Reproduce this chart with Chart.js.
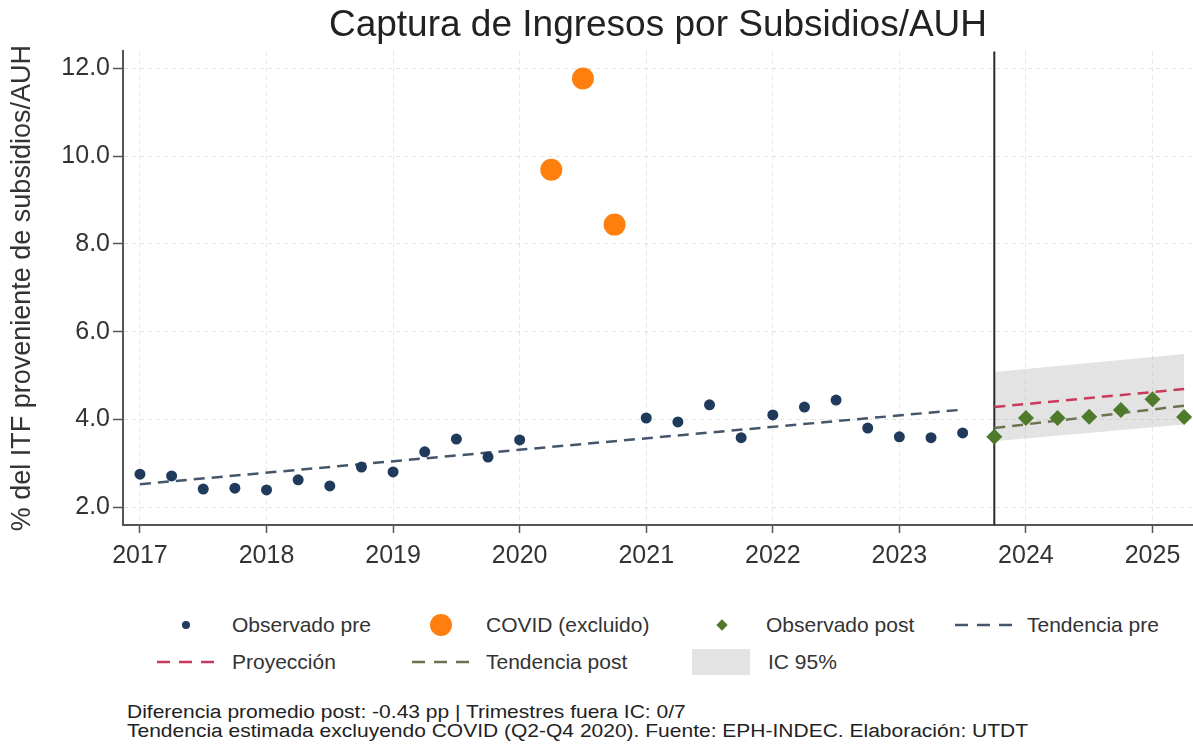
<!DOCTYPE html>
<html lang="es">
<head>
<meta charset="UTF-8">
<title>Captura de Ingresos por Subsidios/AUH</title>
<script src="https://cdn.jsdelivr.net/npm/chart.js"></script>
<style>
    body {
        margin: 0;
        background: #ffffff;
        font-family: "Liberation Sans", Arial, sans-serif;
        color: #333;
    }

    .page {
        position: relative;
        width: 1193px;
        height: 748px;
        overflow: hidden;
    }

    #chart {
        position: absolute;
        left: 0;
        top: 0;
    }

    .legend-text {
        position: absolute;
        font-size: 21px;
        line-height: 24px;
        color: #333;
        white-space: nowrap;
    }

    .sym {
        position: absolute;
    }

    .footer {
        position: absolute;
        left: 127px;
        top: 703px;
        font-size: 21px;
        line-height: 22px;
        color: #222;
        white-space: nowrap;
        transform: scaleY(0.86);
        transform-origin: 0 0;
    }
</style>
</head>
<body>
<div class="page" id="page">
    <canvas id="chart" width="1193" height="590"></canvas>
    <div class="footer">
        <div>Diferencia promedio post: -0.43 pp | Trimestres fuera IC: 0/7</div>
        <div>Tendencia estimada excluyendo COVID (Q2-Q4 2020). Fuente: EPH-INDEC. Elaboración: UTDT</div>
    </div>
</div>

<script>
    // Quarters as decimal years (Q1 = .00, Q2 = .25, ...)
    const preQuarters = [2017, 2017.25, 2017.5, 2017.75, 2018, 2018.25, 2018.5, 2018.75,
        2019, 2019.25, 2019.5, 2019.75, 2020, 2021, 2021.25, 2021.5, 2021.75,
        2022, 2022.25, 2022.5, 2022.75, 2023, 2023.25, 2023.5];
    const preValues = [2.75, 2.71, 2.41, 2.43, 2.39, 2.62, 2.48, 2.91,
        2.80, 3.26, 3.55, 3.14, 3.53, 4.03, 3.94, 4.33, 3.58,
        4.10, 4.28, 4.44, 3.80, 3.60, 3.58, 3.69];

    const covidQuarters = [2020.25, 2020.5, 2020.75];
    const covidValues = [9.69, 11.77, 8.44];

    const postQuarters = [2023.75, 2024, 2024.25, 2024.5, 2024.75, 2025, 2025.25];
    const postValues = [3.60, 4.03, 4.03, 4.06, 4.21, 4.46, 4.05];

    // straight lines: start and end of each fitted trend
    const trendPreQuarters = [2017, 2023.5];
    const trendPreValues = [2.52, 4.22];
    const projQuarters = [2023.75, 2025.25];
    const projValues = [4.28, 4.69];
    const trendPostValues = [3.80, 4.31];
    const ciUpper = [5.08, 5.49];
    const ciLower = [3.50, 3.88];

    const cutoffQuarter = 2023.75;
    const xTickYears = [2017, 2018, 2019, 2020, 2021, 2022, 2023, 2024, 2025];
    const yTickValues = [2, 4, 6, 8, 10, 12];

    const colors = {
        pre: "#1f3a5a",
        covid: "#ff7f0e",
        post: "#4e7a2b",
        trendPre: "#44566a",
        proj: "#c83a5c",
        trendPost: "#6a7550",
        ci: "rgba(170, 170, 170, 0.33)"
    };

    const pts = (xs, ys) => xs.map((x, i) => ({ x: x, y: ys[i] }));
    const FONT = "'Liberation Sans', Arial, sans-serif";
    const CI_INDEX = 6;

    // vertical line at the start of the post period, drawn over the band
    const cutoffLine = {
        id: "cutoffLine",
        afterDatasetDraw(chart, args) {
            if (args.index !== CI_INDEX) return;
            const { ctx, chartArea, scales } = chart;
            const x = scales.x.getPixelForValue(cutoffQuarter);
            ctx.save();
            ctx.strokeStyle = "#2a2a2a";
            ctx.lineWidth = 2;
            ctx.beginPath();
            ctx.moveTo(x, chartArea.top);
            ctx.lineTo(x, chartArea.bottom);
            ctx.stroke();
            ctx.restore();
        }
    };

    new Chart(document.getElementById("chart"), {
        type: "scatter",
        data: {
            datasets: [
                { label: "Observado pre", data: pts(preQuarters, preValues), backgroundColor: colors.pre, borderColor: colors.pre, pointRadius: 5.5, borderWidth: 0 },
                { label: "COVID (excluido)", data: pts(covidQuarters, covidValues), backgroundColor: colors.covid, borderColor: colors.covid, pointRadius: 11, borderWidth: 0 },
                { label: "Observado post", data: pts(postQuarters, postValues), backgroundColor: colors.post, borderColor: colors.post, pointStyle: "rectRot", pointRadius: 8, borderWidth: 0 },
                { label: "Tendencia pre", data: pts(trendPreQuarters, trendPreValues), showLine: true, pointRadius: 0, borderColor: colors.trendPre, borderWidth: 2.5, borderDash: [11, 7] },
                { label: "Proyección", data: pts(projQuarters, projValues), showLine: true, pointRadius: 0, borderColor: colors.proj, borderWidth: 2.5, borderDash: [11, 7] },
                { label: "Tendencia post", data: pts(projQuarters, trendPostValues), showLine: true, pointRadius: 0, borderColor: colors.trendPost, borderWidth: 2.5, borderDash: [11, 7] },
                { label: "IC 95%", data: pts(projQuarters, ciUpper), showLine: true, pointRadius: 0, borderWidth: 0, borderColor: "transparent", backgroundColor: colors.ci, fill: "+1" },
                { label: "IC inferior", data: pts(projQuarters, ciLower), showLine: true, pointRadius: 0, borderWidth: 0, borderColor: "transparent" }
            ]
        },
        options: {
            responsive: false,
            animation: false,
            layout: { padding: 0, autoPadding: false },
            plugins: {
                legend: { display: false },
                tooltip: { enabled: false },
                title: {
                    display: true,
                    text: "Captura de Ingresos por Subsidios/AUH",
                    fullSize: false,
                    color: "#222",
                    font: { family: FONT, size: 37, weight: "normal" },
                    padding: { top: 4, bottom: 3 }
                }
            },
            scales: {
                x: {
                    type: "linear",
                    min: 2016.866,
                    max: 2025.32,
                    afterBuildTicks: s => { s.ticks = xTickYears.map(v => ({ value: v })); },
                    afterFit: s => { s.height = 65; },
                    ticks: {
                        callback: v => String(v),
                        color: "#333",
                        font: { family: FONT, size: 25 },
                        padding: 8,
                        maxRotation: 0,
                        autoSkip: false
                    },
                    grid: { color: "#e4e4e4", lineWidth: 1, tickColor: "#555", tickLength: 8, tickWidth: 1.5 },
                    border: { color: "#555", width: 2, dash: [4, 4] }
                },
                y: {
                    min: 1.59,
                    max: 12.39,
                    afterBuildTicks: s => { s.ticks = yTickValues.map(v => ({ value: v })); },
                    afterFit: s => { s.width = 123; },
                    ticks: {
                        callback: v => Number(v).toFixed(1),
                        color: "#333",
                        font: { family: FONT, size: 25 },
                        padding: 3
                    },
                    grid: { color: "#e4e4e4", lineWidth: 1, tickColor: "#555", tickLength: 10, tickWidth: 1.5 },
                    border: { color: "#555", width: 2, dash: [4, 4] },
                    title: {
                        display: true,
                        text: "% del ITF proveniente de subsidios/AUH",
                        color: "#333",
                        font: { family: FONT, size: 27 },
                        padding: { top: 6, bottom: 0 }
                    }
                }
            }
        },
        plugins: [cutoffLine]
    });

    // legend below the plot (two rows, four columns)
    const legendRows = [625, 662];
    const legendItems = [
        { label: "Observado pre", kind: "dot", size: 8, color: colors.pre, row: 0, symX: 186, textX: 232 },
        { label: "COVID (excluido)", kind: "dot", size: 22, color: colors.covid, row: 0, symX: 441, textX: 486 },
        { label: "Observado post", kind: "diamond", size: 8, color: colors.post, row: 0, symX: 722, textX: 766 },
        { label: "Tendencia pre", kind: "dash", size: 58, color: colors.trendPre, row: 0, symX: 984, textX: 1027 },
        { label: "Proyección", kind: "dash", size: 58, color: colors.proj, row: 1, symX: 186, textX: 232 },
        { label: "Tendencia post", kind: "dash", size: 58, color: colors.trendPost, row: 1, symX: 441, textX: 486 },
        { label: "IC 95%", kind: "box", size: 58, color: "#e3e3e3", row: 1, symX: 721, textX: 768 }
    ];

    const page = document.getElementById("page");
    legendItems.forEach(item => {
        const cy = legendRows[item.row];
        let sym;
        if (item.kind === "dash") {
            sym = document.createElementNS("http://www.w3.org/2000/svg", "svg");
            sym.setAttribute("width", item.size);
            sym.setAttribute("height", 6);
            sym.innerHTML = `<line x1="0" y1="3" x2="${item.size}" y2="3" stroke="${item.color}" stroke-width="2.5" stroke-dasharray="13 9"/>`;
            sym.style.left = (item.symX - item.size / 2) + "px";
            sym.style.top = (cy - 3) + "px";
        } else {
            sym = document.createElement("div");
            const h = item.kind === "box" ? 26 : item.size;
            sym.style.width = item.size + "px";
            sym.style.height = h + "px";
            sym.style.left = (item.symX - item.size / 2) + "px";
            sym.style.top = (cy - h / 2) + "px";
            sym.style.background = item.color;
            if (item.kind === "dot") sym.style.borderRadius = "50%";
            if (item.kind === "diamond") sym.style.transform = "rotate(45deg)";
        }
        sym.classList.add("sym");
        page.appendChild(sym);

        const txt = document.createElement("div");
        txt.className = "legend-text";
        txt.textContent = item.label;
        txt.style.left = item.textX + "px";
        txt.style.top = (cy - 12) + "px";
        page.appendChild(txt);
    });
</script>
</body>
</html>
